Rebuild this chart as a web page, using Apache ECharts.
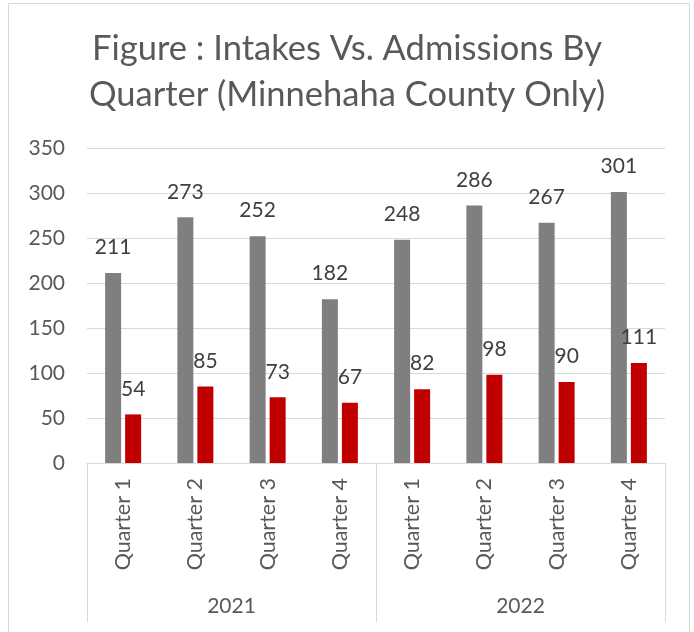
<!DOCTYPE html>
<html>
<head>
<meta charset="utf-8">
<script src="https://cdn.jsdelivr.net/npm/echarts@6/dist/echarts.min.js"></script>
<style>
  html, body { margin: 0; padding: 0; background: #fff; }
  #chart { width: 694px; height: 632px; }
</style>
</head>
<body>
<div id="chart"></div>
<script>
var quarters = ['Quarter 1', 'Quarter 2', 'Quarter 3', 'Quarter 4', 'Quarter 1', 'Quarter 2', 'Quarter 3', 'Quarter 4'];
var years = ['2021', '2022'];
var intakes = [211, 273, 252, 182, 248, 286, 267, 301];
var admissions = [54, 85, 73, 67, 82, 98, 90, 111];
var yTicks = { min: 0, max: 350, interval: 50 };

var font = 'Lato';
var textGray = '#595959';
var lineGray = '#d9d9d9';

var chart = echarts.init(document.getElementById('chart'));
var option = {
    animation: false,
    textStyle: { fontFamily: font },
    title: {
        text: 'Figure : Intakes Vs. Admissions By\nQuarter (Minnehaha County Only)',
        left: 'center',
        top: 21,
        textStyle: {
            fontFamily: font,
            fontSize: 34.5,
            fontWeight: 'normal',
            color: textGray,
            lineHeight: 46
        }
    },
    graphic: [{
        type: 'rect',
        shape: { x: 8.5, y: 3.5, width: 681, height: 640 },
        style: { fill: 'none', stroke: lineGray, lineWidth: 1 },
        silent: true
    }],
    grid: { left: 87, right: 29, top: 148, bottom: 169, containLabel: false },
    xAxis: [
        {
            type: 'category',
            data: quarters,
            position: 'bottom',
            axisLine: { show: true, lineStyle: { color: lineGray, width: 1 } },
            axisTick: { show: false },
            axisLabel: {
                rotate: 90,
                margin: 15,
                fontSize: 21.5,
                color: textGray,
                fontFamily: font,
                interval: 0
            }
        },
        {
            type: 'category',
            data: years,
            position: 'bottom',
            offset: 0,
            axisLine: { show: false },
            axisTick: { show: true, length: 159, lineStyle: { color: lineGray, width: 1 } },
            axisLabel: {
                margin: 133,
                fontSize: 21,
                color: textGray,
                fontFamily: font
            }
        }
    ],
    yAxis: {
        type: 'value',
        min: yTicks.min,
        max: yTicks.max,
        interval: yTicks.interval,
        axisLine: { show: false },
        axisTick: { show: false },
        splitLine: { lineStyle: { color: lineGray, width: 1 } },
        axisLabel: {
            margin: 22,
            fontSize: 21,
            color: textGray,
            fontFamily: font
        }
    },
    series: [
        {
            name: 'Intakes',
            type: 'bar',
            xAxisIndex: 0,
            data: intakes,
            barWidth: 16,
            barGap: '25%',
            itemStyle: { color: '#7f7f7f' },
            label: {
                show: true,
                position: 'top',
                distance: 15,
                fontSize: 21,
                color: '#404040',
                fontFamily: font
            }
        },
        {
            name: 'Admissions',
            type: 'bar',
            xAxisIndex: 0,
            data: admissions,
            barWidth: 16,
            barGap: '25%',
            itemStyle: { color: '#c00000' },
            label: {
                show: true,
                position: 'top',
                distance: 15,
                fontSize: 21,
                color: '#404040',
                fontFamily: font
            }
        }
    ]
};
chart.setOption(option);
</script>
</body>
</html>
